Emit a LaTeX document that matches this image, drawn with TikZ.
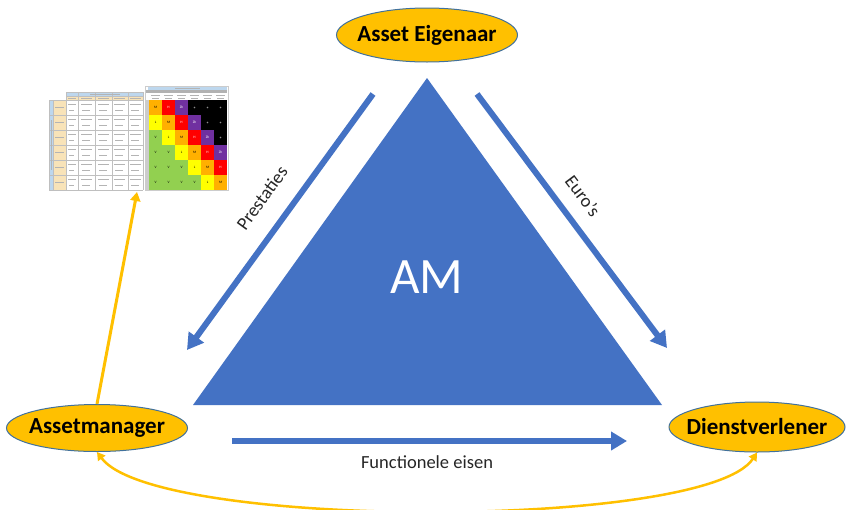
\documentclass[tikz,border=0pt]{standalone}
\usepackage{fontspec}
\setmainfont{Carlito}
\usetikzlibrary{arrows.meta,shapes.geometric}
\definecolor{amblue}{HTML}{4472C4}
\definecolor{amyellow}{HTML}{FFC000}
\definecolor{ellborder}{HTML}{41719C}
\definecolor{hdrblue}{HTML}{BDD7EE}
\definecolor{tblbeige}{HTML}{F8E3B8}
\definecolor{mgreen}{HTML}{92D050}
\definecolor{myellow}{HTML}{FFFF00}
\definecolor{morange}{HTML}{FFB000}
\definecolor{mred}{HTML}{FF0000}
\definecolor{mpurple}{HTML}{7030A0}
\definecolor{txtmark}{HTML}{B4B4B4}
\begin{document}
\begin{tikzpicture}[x=1pt,y=-1pt,
  roleell/.style={ellipse, draw=ellborder, line width=1pt, fill=amyellow, inner sep=0pt},
  rolelbl/.style={inner sep=0pt, font=\fontsize{23}{23}\selectfont\bfseries},
  bluearrow/.style={draw=amblue, line width=6pt, -{Triangle[width=18pt,length=16pt]}},
  yarrow/.style={draw=amyellow, line width=3pt, -{Triangle[width=10pt,length=9pt]}},
  ybiarrow/.style={draw=amyellow, line width=2.5pt, {Triangle[width=9pt,length=8pt]}-{Triangle[width=9pt,length=8pt]}},
  lbl/.style={text=black!85, inner sep=0pt},
  gridline/.style={draw=black!25, line width=0.3pt},
  txtline/.style={draw=txtmark, line width=0.6pt}
]
\useasboundingbox (0,0) rectangle (851,509);
\fill[white] (0,0) rectangle (851,509);

% ---------- triangle ----------
\coordinate (tl) at (193,405);
\coordinate (tr) at (662,405);
\coordinate (tt) at (427,78);
\fill[amblue] (tl) -- (tr) -- (tt) -- cycle;
\node[text=white, inner sep=0pt, font=\fontsize{51}{51}\selectfont] (amtext) at (427,277) {AM};

% ---------- role ellipses ----------
\node[roleell, minimum width=181pt, minimum height=54pt] (ae) at (427,35) {};
\node[rolelbl] (aelbl) at (ae.center) {Asset Eigenaar};
\node[roleell, minimum width=181pt, minimum height=47pt] (mgr) at (97,428) {};
\node[rolelbl] (mgrlbl) at (mgr.center) {Assetmanager};
\node[roleell, minimum width=176pt, minimum height=50pt] (dv) at (757,427) {};
\node[rolelbl] (dvlbl) at (dv.center) {Dienstverlener};

% ---------- blue arrows ----------
\coordinate (p1) at (373,94);
\coordinate (p2) at (187,350);
\draw[bluearrow] (p1) -- (p2);
\coordinate (e1) at (477,94);
\coordinate (e2) at (667,348);
\draw[bluearrow] (e1) -- (e2);
\coordinate (f1) at (232,441);
\coordinate (f2) at (627,441);
\draw[bluearrow] (f1) -- (f2);

\node[lbl, rotate=54, font=\fontsize{18.5}{18.5}\selectfont] (prest) at (262,198) {Prestaties};
\node[lbl, rotate=-53, font=\fontsize{18.5}{18.5}\selectfont] (euro) at (583,196) {Euro’s};
\node[lbl, font=\fontsize{18.5}{18.5}\selectfont] (func) at (427,462) {Functionele eisen};

% ---------- risk matrix thumbnail ----------
% left table
\fill[hdrblue] (66,92) rectangle (143,96);
\fill[tblbeige] (66,96) rectangle (143,100);
\fill[hdrblue] (49,100) rectangle (53,190);
\fill[tblbeige] (53,100) rectangle (66,190);
\foreach \x in {66,78,95,112,128,143} \draw[gridline] (\x,92) -- (\x,190);
\foreach \x in {49,53} \draw[gridline] (\x,100) -- (\x,190);
\foreach \y in {100,115,130,145,160,175,190} \draw[gridline] (49,\y) -- (143,\y);
\draw[gridline] (66,92) -- (143,92);
\draw[gridline] (66,96) -- (143,96);
\draw[txtline] (90,94) -- (120,94);
\draw[txtline] (51,120) -- (51,170);
\foreach \xa/\xb in {68/76,81/92,98/109,114/125,130/141} \draw[txtline] (\xa,98) -- (\xb,98);
\foreach \r in {0,...,5}{
  \draw[txtline] (55,107.5+15*\r) -- (64,107.5+15*\r);
  \foreach \xa/\xb in {68/76,81/92,98/109,114/125,130/141}{
    \draw[txtline] (\xa,104+15*\r) -- (\xb,104+15*\r);
    \draw[txtline] (\xa+1,110+15*\r) -- (\xb-2,110+15*\r);
  }
}
% right matrix
\fill[hdrblue] (148,86) rectangle (227,90);
\fill[black!30] (145,90) rectangle (227,93);
\fill[black!20] (145,100) rectangle (149,190);
\draw[txtline] (175,88) -- (200,88);
\foreach \c in {0,...,5}{
  \draw[txtline] (151+13*\c,95.5) -- (160+13*\c,95.5);
  \draw[txtline] (152+13*\c,98) -- (159+13*\c,98);
}
\foreach \r in {0,...,5}{
  \foreach \c in {0,...,5}{
    \pgfmathtruncatemacro{\k}{max(0,min(5,\c-\r+2))}
    \ifcase\k \def\cellcol{mgreen}\def\celltxt{V}\def\celltc{black}%
    \or \def\cellcol{myellow}\def\celltxt{L}\def\celltc{black}%
    \or \def\cellcol{morange}\def\celltxt{M}\def\celltc{black}%
    \or \def\cellcol{mred}\def\celltxt{H}\def\celltc{white}%
    \or \def\cellcol{mpurple}\def\celltxt{Zh}\def\celltc{white}%
    \or \def\cellcol{black}\def\celltxt{}\def\celltc{black}%
    \fi
    \fill[\cellcol] (149+13*\c,100+15*\r) rectangle ++(13,15);
    \ifnum\k=5
      \fill[black!45] (155.5+13*\c,107.5+15*\r) circle (0.9);
    \else
      \node[inner sep=0pt, text=\celltc, font=\fontsize{3.5}{3.5}\selectfont] (cell\r\c) at (155.5+13*\c,107.5+15*\r) {\celltxt};
    \fi
  }
}
\draw[draw=black!20, line width=0.4pt] (145,86) rectangle (228,190);

% ---------- yellow connectors ----------
\coordinate (matbot) at (137,192);
\draw[yarrow] (mgr.north) -- (matbot);
\draw[ybiarrow] (mgr.south) .. controls (155,530) and (706,530) .. (dv.south);
\end{tikzpicture}
\end{document}
